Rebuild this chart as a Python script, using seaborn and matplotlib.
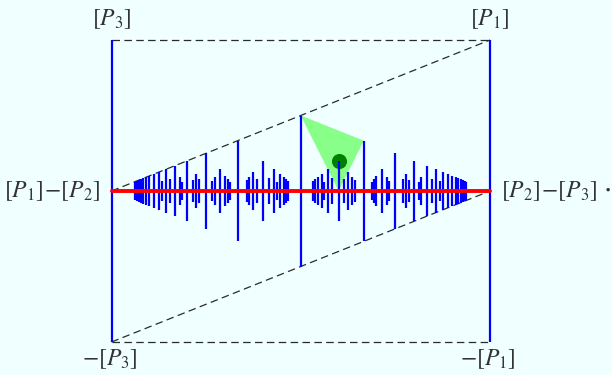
import matplotlib
matplotlib.use("Agg")
import matplotlib.pyplot as plt
import numpy as np
import pandas as pd
import seaborn as sns

# Farey fractions of order 16, grouped by denominator
fractions = [
    "0/1", "1/1",
    "1/2",
    "1/3", "2/3",
    "1/4", "3/4",
    "1/5", "2/5", "3/5", "4/5",
    "1/6", "5/6",
    "1/7", "2/7", "3/7", "4/7", "5/7", "6/7",
    "1/8", "3/8", "5/8", "7/8",
    "1/9", "2/9", "4/9", "5/9", "7/9", "8/9",
    "1/10", "3/10", "7/10", "9/10",
    "1/11", "2/11", "3/11", "4/11", "5/11", "6/11", "7/11", "8/11", "9/11", "10/11",
    "1/12", "5/12", "7/12", "11/12",
    "1/13", "2/13", "3/13", "4/13", "5/13", "6/13", "7/13", "8/13", "9/13", "10/13",
    "11/13", "12/13",
    "1/14", "3/14", "5/14", "9/14", "11/14", "13/14",
    "1/15", "2/15", "4/15", "7/15", "8/15", "11/15", "13/15", "14/15",
    "1/16", "3/16", "5/16", "7/16", "9/16", "11/16", "13/16", "15/16",
]

# Highlighted triangle (1/2, 2/3 and their mediant 3/5) and marked point
tri_x = [1 / 2, 2 / 3, 3 / 5]
tri_y = [1 / 2, 1 / 3, 0.0]
dot_x = [3 / 5]
dot_y = [1 / 5]

num = np.array([int(f.split("/")[0]) for f in fractions])
den = np.array([int(f.split("/")[1]) for f in fractions])
df = pd.DataFrame({"x": num / den, "h": 1.0 / den})

sns.set_theme(style="white")
plt.rcParams["mathtext.fontset"] = "stix"
plt.rcParams["font.family"] = ["STIXGeneral", "DejaVu Serif"]

bg = "#F0FFFF"
ink = "#333333"

fig = plt.figure(figsize=(6.12, 3.75), dpi=100)
fig.patch.set_facecolor(bg)
ax = fig.add_axes([0, 0, 1, 1])
ax.set_facecolor(bg)

# pixel layout: x=0 at 111.5px, x=1 at 490px; y=+1 at 40px, y=-1 at 342px
sx = 378.5
sy = 302 / 2
ax.set_xlim(-111.5 / sx, (612 - 111.5) / sx)
ax.set_ylim(-1 - 33 / sy, 1 + 40 / sy)
ax.axis("off")

ax.fill(tri_x, tri_y, color="#88FF88", lw=0, zorder=1)
ax.scatter(dot_x, dot_y, s=118, color="#008000", lw=0, zorder=2)

ax.vlines(df["x"], -df["h"], df["h"], color="#0000FF", lw=1.6, zorder=3)

dash_kw = dict(color="#2a2a2a", lw=0.9, dashes=(6, 3.5), zorder=2.5)
ax.plot([0, 1], [1, 1], **dash_kw)
ax.plot([0, 1], [-1, -1], **dash_kw)
ax.plot([0, 1], [0, 1], **dash_kw)
ax.plot([0, 1], [-1, 0], **dash_kw)

sns.lineplot(x=[0, 1], y=[0, 0], color="#FF0000", lw=2.8, ax=ax, zorder=4)

fs = 17
ax.text(0, 1 + 21 / sy, r"$[P_3]$", ha="center", va="center", fontsize=fs, color=ink)
ax.text(1, 1 + 21 / sy, r"$[P_1]$", ha="center", va="center", fontsize=fs, color=ink)
ax.text(-2 / sx, -1 - 17 / sy, r"$-[P_3]$", ha="center", va="center", fontsize=fs, color=ink)
ax.text(1 - 2 / sx, -1 - 17 / sy, r"$-[P_1]$", ha="center", va="center", fontsize=fs, color=ink)
ax.text(-11 / sx, 0, r"$[P_1]\!-\![P_2]$", ha="right", va="center", fontsize=fs, color=ink)
ax.text(1 + 11 / sx, 0, r"$[P_2]\!-\![P_3]$", ha="left", va="center", fontsize=fs, color=ink)
ax.text(1 + 113 / sx, 2 / sy, r"$\cdot$", ha="left", va="center", fontsize=fs + 4, color=ink)

fig.savefig("out.png", dpi=100, facecolor=bg)
